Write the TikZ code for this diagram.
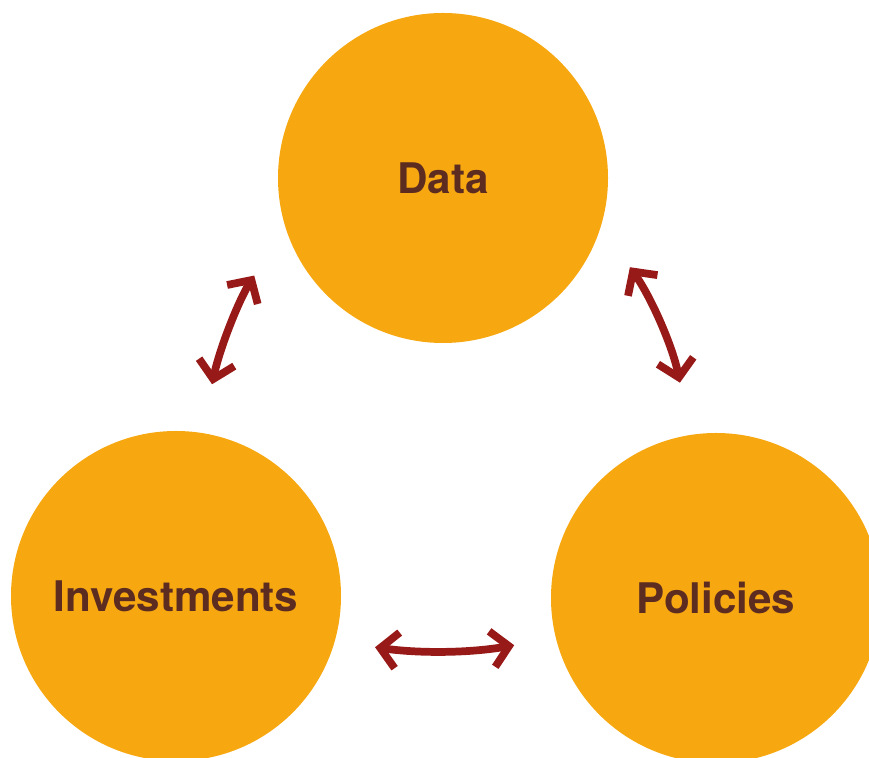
\documentclass[tikz,border=0pt]{standalone}
\usepackage{fontspec}
\setmainfont{TeX Gyre Heros}
\usetikzlibrary{arrows.meta}

\definecolor{circfill}{HTML}{F7A811}
\definecolor{arrowred}{HTML}{981A18}
\definecolor{labelbrown}{HTML}{5D2C20}

\tikzset{
  topic/.style={circle, fill=circfill, minimum size=6.6cm, inner sep=0pt,
    font=\fontsize{24}{27}\selectfont\bfseries, text=labelbrown},
  link/.style={draw=arrowred, line width=4.4pt,
    {Straight Barb[length=0.34cm, width=0.72cm]}-{Straight Barb[length=0.34cm, width=0.72cm]}}
}

\begin{document}
\begin{tikzpicture}
  \useasboundingbox (0,0) rectangle (17.38,15.16);
  \begin{scope}
    \clip (0,0) rectangle (17.38,15.16);
    \node[topic] (data) at (8.86,11.6) {Data};
    \node[topic] (inv) at (3.52,3.24) {Investments};
    \node[topic] (pol) at (14.32,3.2) {Policies};
  \end{scope}

  \draw[link, shorten <=0.99cm, shorten >=1.16cm] (inv.81.4) to[bend left=10] (data.197.2);
  \draw[link, shorten <=1cm, shorten >=1.06cm] (data.343.3) to[bend left=12] (pol.99.5);
  \draw[link, shorten <=0.81cm, shorten >=0.84cm] (inv.344.5) to[bend right=9] (pol.194.7);
\end{tikzpicture}
\end{document}
